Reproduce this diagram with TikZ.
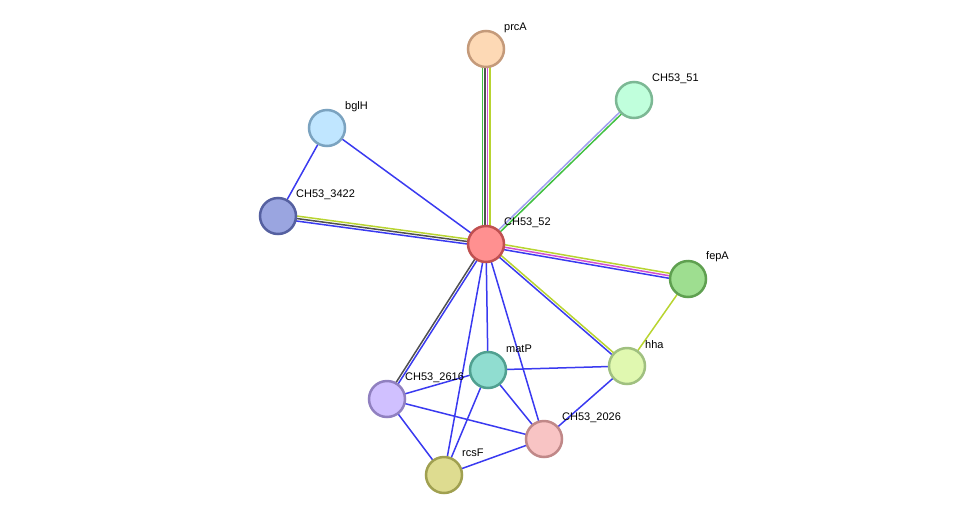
\documentclass[tikz,border=0pt]{standalone}
\usepackage{fontspec}
\setmainfont{Liberation Sans}
\usetikzlibrary{calc}
\definecolor{eblue}{HTML}{3A3AF0}
\definecolor{elime}{HTML}{B8D430}
\definecolor{emag}{HTML}{D050D0}
\definecolor{egray}{HTML}{505050}
\definecolor{egreen}{HTML}{40C040}
\definecolor{elav}{HTML}{A0A0F0}
\definecolor{dA}{HTML}{C49A7A}\definecolor{fA}{HTML}{FDD9B5}
\definecolor{dB}{HTML}{7CB894}\definecolor{fB}{HTML}{C0FFDC}
\definecolor{dC}{HTML}{7BA3C0}\definecolor{fC}{HTML}{C0E6FF}
\definecolor{dD}{HTML}{5560A0}\definecolor{fD}{HTML}{9AA5E0}
\definecolor{dE}{HTML}{C05050}\definecolor{fE}{HTML}{FF9090}
\definecolor{dF}{HTML}{5FA050}\definecolor{fF}{HTML}{9EDE90}
\definecolor{dG}{HTML}{A0C080}\definecolor{fG}{HTML}{E0F8B0}
\definecolor{dH}{HTML}{50A090}\definecolor{fH}{HTML}{90DDD0}
\definecolor{dI}{HTML}{9080C0}\definecolor{fI}{HTML}{D0C0FF}
\definecolor{dJ}{HTML}{C08888}\definecolor{fJ}{HTML}{F8C4C4}
\definecolor{dK}{HTML}{A0A050}\definecolor{fK}{HTML}{DEDC90}
\newcommand{\ed}[4]{\draw[edge,#4] ($(#1)!#3!90:(#2)$) -- ($(#2)!#3!-90:(#1)$);}
\begin{document}
\begin{tikzpicture}[x=1pt,y=-1pt,
 edge/.style={line width=1.5pt},
 prot/.style={circle,minimum size=36pt,inner sep=0pt,line width=2.5pt,draw=d#1,fill=f#1},
 lab/.style={font=\fontsize{11}{13}\selectfont,anchor=west,inner sep=0pt}]
\useasboundingbox (0,0) rectangle (975,520);
\coordinate (prcA) at (486,49);
\coordinate (c51) at (634,100);
\coordinate (bglH) at (327,128);
\coordinate (c3422) at (278,216);
\coordinate (c52) at (486,244);
\coordinate (fepA) at (688,279);
\coordinate (hha) at (627,366);
\coordinate (matP) at (488,370);
\coordinate (c2616) at (387,399);
\coordinate (c2026) at (544,439);
\coordinate (rcsF) at (444,475);
% edges
\ed{c52}{prcA}{-3.75pt}{elime}\ed{c52}{prcA}{-1.25pt}{emag}\ed{c52}{prcA}{1.25pt}{egray}\ed{c52}{prcA}{3.75pt}{egreen}
\ed{c52}{c51}{-1.25pt}{egreen}\ed{c52}{c51}{1.25pt}{elav}
\ed{c52}{bglH}{0pt}{eblue}
\ed{bglH}{c3422}{0pt}{eblue}
\ed{c3422}{c52}{-2.5pt}{eblue}\ed{c3422}{c52}{0pt}{egray}\ed{c3422}{c52}{2.5pt}{elime}
\ed{c52}{fepA}{-2.5pt}{eblue}\ed{c52}{fepA}{0pt}{emag}\ed{c52}{fepA}{2.5pt}{elime}
\ed{c52}{hha}{-1.25pt}{eblue}\ed{c52}{hha}{1.25pt}{elime}
\ed{fepA}{hha}{0pt}{elime}
\ed{c52}{c2616}{-1.25pt}{egray}\ed{c52}{c2616}{1.25pt}{eblue}
\foreach \a/\b in {c52/matP,c52/rcsF,c52/c2026,matP/hha,matP/c2616,matP/c2026,matP/rcsF,c2616/c2026,c2616/rcsF,rcsF/c2026,hha/c2026}{\ed{\a}{\b}{0pt}{eblue}}
% nodes
\node[prot=A] (nprcA) at (prcA) {};
\node[prot=B] (n51) at (c51) {};
\node[prot=C] (nbglH) at (bglH) {};
\node[prot=D] (n3422) at (c3422) {};
\node[prot=E] (n52) at (c52) {};
\node[prot=F] (nfepA) at (fepA) {};
\node[prot=G] (nhha) at (hha) {};
\node[prot=H] (nmatP) at (matP) {};
\node[prot=I] (n2616) at (c2616) {};
\node[prot=J] (n2026) at (c2026) {};
\node[prot=K] (nrcsF) at (rcsF) {};
% labels
\node[lab] (lprcA) at (504,28) {prcA};
\node[lab] (l51) at (652,79) {CH53\_51};
\node[lab] (lbglH) at (345,107) {bglH};
\node[lab] (l3422) at (296,195) {CH53\_3422};
\node[lab] (l52) at (504,223) {CH53\_52};
\node[lab] (lfepA) at (706,257) {fepA};
\node[lab] (lhha) at (645,345) {hha};
\node[lab] (lmatP) at (506,349) {matP};
\node[lab] (l2616) at (405,378) {CH53\_2616};
\node[lab] (l2026) at (562,418) {CH53\_2026};
\node[lab] (lrcsF) at (462,453) {rcsF};
\end{tikzpicture}
\end{document}
